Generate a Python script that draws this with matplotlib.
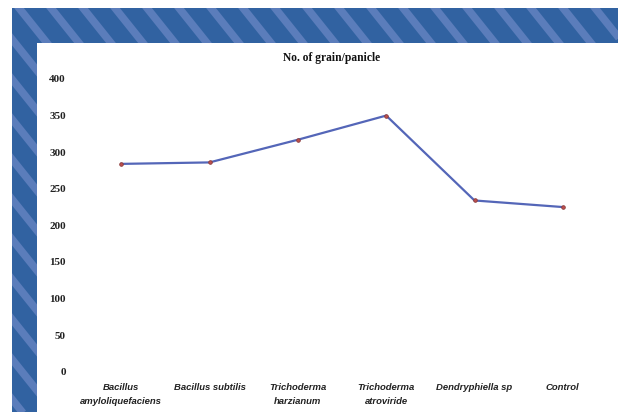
import matplotlib
matplotlib.use("Agg")
import matplotlib.pyplot as plt
from matplotlib.patches import Rectangle
import numpy as np

# Data
categories = [
    "Bacillus\namyloliquefaciens",
    "Bacillus subtilis",
    "Trichoderma\nharzianum",
    "Trichoderma\natroviride",
    "Dendryphiella sp",
    "Control",
]
grain_per_panicle = [284, 286, 317, 350, 234, 225]
y_ticks = [0, 50, 100, 150, 200, 250, 300, 350, 400]
title = "No. of grain/panicle"

W, H = 618, 412
fig = plt.figure(figsize=(W / 100, H / 100), dpi=100)
fig.patch.set_facecolor("white")

# Decorative striped frame behind the chart panel (pixel coordinates)
bg = fig.add_axes([0, 0, 1, 1], zorder=0)
bg.set_xlim(0, W)
bg.set_ylim(H, 0)
bg.axis("off")
blue = Rectangle((12, 8), W - 12, H - 8, facecolor="#3162a1", edgecolor="none", zorder=1)
bg.add_patch(blue)
slope = 1.25
for c in np.arange(19 - 32 * 12, W + 32, 32):
    ys = np.array([0, H + 10])
    xs = c + (ys - 8) / slope
    ln, = bg.plot(xs, ys, color="#5b7dbb", lw=5.5, solid_capstyle="butt", zorder=2)
    ln.set_clip_path(blue)
bg.add_patch(Rectangle((37, 43), W - 37, H - 43, facecolor="white",
                       edgecolor="none", zorder=3))

# Chart
ax = fig.add_axes([77 / W, 1 - 371.7 / H, (607 - 77) / W, (371.7 - 79) / H], zorder=1)
ax.patch.set_alpha(0)
x = np.arange(len(categories))
ax.plot(x, grain_per_panicle, color="#5466b8", lw=1.6,
        marker="o", markersize=2.6, markerfacecolor="#c0504d",
        markeredgecolor="#8a3a3a", markeredgewidth=0.6)
ax.set_xlim(-0.5, len(categories) - 0.5)
ax.set_ylim(0, 400)
ax.set_yticks(y_ticks)
ax.set_yticklabels([str(v) for v in y_ticks], fontfamily="Liberation Serif",
                   fontweight="bold", fontsize=8, color="#222222")
ax.set_xticks(x)
ax.set_xticklabels(categories, fontfamily="Liberation Sans", fontweight="bold",
                   fontstyle="italic", fontsize=6.8, color="#222222", linespacing=1.8)
ax.tick_params(axis="both", length=0)
ax.tick_params(axis="y", pad=8)
ax.tick_params(axis="x", pad=8)
for s in ax.spines.values():
    s.set_visible(False)

fig.text(332 / W, 1 - 58 / H, title, ha="center", va="center",
         fontfamily="Liberation Serif", fontweight="bold", fontsize=8.3, color="#111111")

fig.savefig("out.png", dpi=100)
